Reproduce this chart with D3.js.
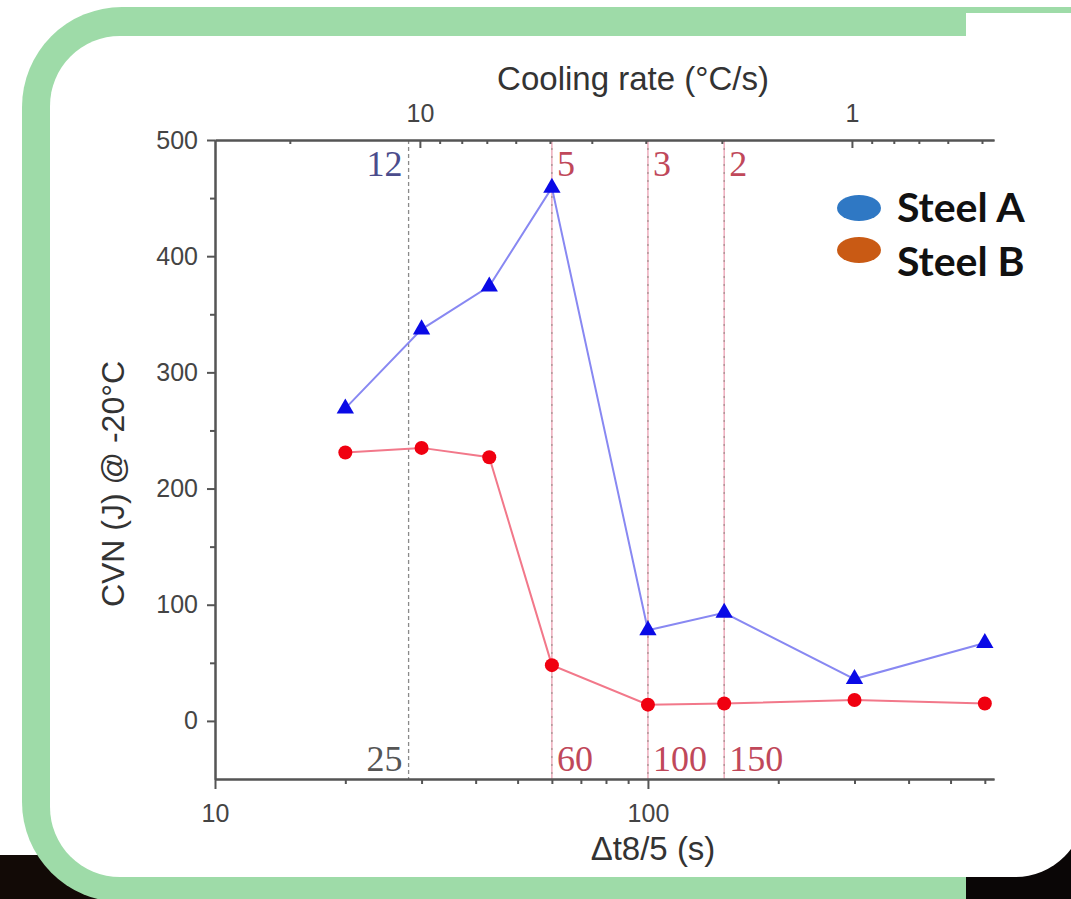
<!DOCTYPE html>
<html>
  <head>
    <meta charset="utf-8" />
    <title>CVN vs t8/5</title>
    <script src="https://d3js.org/d3.v7.min.js"></script>
    <style>
      body {
        margin: 0;
        background: #ffffff;
      }
      svg {
        display: block;
      }
    </style>
  </head>
  <body>

    <svg id="chart"></svg>

    <script>

      // cooling time t8/5 (s) of each weld
      var dtValues = [20, 30, 43, 60, 100, 150, 300, 600];
      // CVN at -20°C (J)
      var steelA = [269, 337, 374, 459, 78, 93, 36, 67];
      var steelB = [231, 235, 227, 48, 14, 15, 18, 15];

      // marked cooling times and matching cooling rates
      var refDt = [28, 60, 100, 150];
      var refDtLabels = ["25", "60", "100", "150"];
      var refRateLabels = ["12", "5", "3", "2"];

      var bottomMajor = [10, 100];
      var bottomMinor = [20, 30, 40, 50, 60, 70, 80, 90, 200, 300, 400, 500, 600];
      var topMajor = [10, 1];
      var topMinor = [20, 9, 8, 7, 6, 5, 4, 3, 2, 0.9, 0.8, 0.7, 0.6, 0.5];
      var yMajor = [0, 100, 200, 300, 400, 500];
      var yMinor = [50, 150, 250, 350, 450];

      var legendNames = ["Steel A", "Steel B"];
      var legendColors = ["#2f78c4", "#c95a14"];

      var width = 1071;
      var height = 899;
      var plot = { left: 215, right: 994, top: 140, bottom: 779 };

      var svg = d3.select("#chart")
        .attr("width", width)
        .attr("height", height);

      // ---- slide frame ----
      var frame = svg.append("g");
      frame.append("rect").attr("x", 0).attr("y", 855).attr("width", 130).attr("height", 44).attr("fill", "#120a06");
      frame.append("rect")
        .attr("x", 22).attr("y", 7)
        .attr("width", 2000).attr("height", 895)
        .attr("rx", 100)
        .attr("fill", "#9edba8");
      frame.append("rect").attr("x", 966).attr("y", 820).attr("width", 105).attr("height", 79).attr("fill", "#0a0606");
      frame.append("rect").attr("x", 966).attr("y", 13).attr("width", 105).attr("height", 80).attr("fill", "#ffffff");
      frame.append("rect")
        .attr("x", 50).attr("y", 36)
        .attr("width", 1035).attr("height", 841)
        .attr("rx", 70)
        .attr("fill", "#ffffff");

      // ---- scales ----
      var x = d3.scaleLog()
        .domain([10, 630])
        .range([plot.left, plot.right]);

      var xTop = d3.scaleLog()
        .domain([29.8, 0.469])
        .range([plot.left, plot.right]);

      var y = d3.scaleLinear()
        .domain([-50, 500])
        .range([plot.bottom, plot.top]);

      var axisColor = "#555";
      var tickFont = "'Liberation Sans', Arial, sans-serif";

      function styleAxis(g) {
        g.attr("font-family", tickFont)
          .attr("font-size", 25);
        g.selectAll("path, line")
          .attr("stroke", axisColor)
          .attr("stroke-width", 2);
        g.selectAll("text").attr("fill", "#444");
      }

      // ---- reference lines ----
      var refs = svg.append("g");
      refDt.forEach(function(d, i) {
        var xp = x(d);
        if (i > 0) {
          refs.append("line")
            .attr("x1", xp).attr("x2", xp)
            .attr("y1", y(500)).attr("y2", y(-50))
            .attr("stroke", "#eaa0b2")
            .attr("stroke-width", 1.3);
        }
        refs.append("line")
          .attr("x1", xp).attr("x2", xp)
          .attr("y1", y(500)).attr("y2", y(-50))
          .attr("stroke", i === 0 ? "#8a8a8a" : "#a89090")
          .attr("stroke-width", 1.3)
          .attr("stroke-dasharray", i === 0 ? "4,3" : "2,6");
      });

      var serif = "'Liberation Serif', 'Times New Roman', serif";
      refDt.forEach(function(d, i) {
        var left = i === 0;
        var xp = x(d) + (left ? -6 : 5);
        refs.append("text")
          .attr("x", xp)
          .attr("y", 176)
          .attr("text-anchor", left ? "end" : "start")
          .attr("font-family", serif)
          .attr("font-size", 36)
          .attr("fill", left ? "#4b4c8c" : "#c0485a")
          .text(refRateLabels[i]);
        refs.append("text")
          .attr("x", xp)
          .attr("y", 771)
          .attr("text-anchor", left ? "end" : "start")
          .attr("font-family", serif)
          .attr("font-size", 36)
          .attr("fill", left ? "#555" : "#c0485a")
          .text(refDtLabels[i]);
      });

      // ---- axes ----
      svg.append("g")
        .attr("transform", "translate(0," + plot.bottom + ")")
        .call(d3.axisBottom(x).tickValues(bottomMinor).tickFormat("").tickSize(5).tickSizeOuter(0))
        .call(styleAxis);
      svg.append("g")
        .attr("transform", "translate(0," + plot.bottom + ")")
        .call(d3.axisBottom(x).tickValues(bottomMajor).tickFormat(d3.format("d")).tickSize(10).tickPadding(15).tickSizeOuter(0))
        .call(styleAxis);

      svg.append("g")
        .attr("transform", "translate(0," + plot.top + ")")
        .call(d3.axisTop(xTop).tickValues(topMinor).tickFormat("").tickSizeInner(-4).tickSizeOuter(0))
        .call(styleAxis);
      svg.append("g")
        .attr("transform", "translate(0," + plot.top + ")")
        .call(d3.axisTop(xTop).tickValues(topMajor).tickFormat(d3.format("d")).tickSizeInner(-8).tickPadding(18).tickSizeOuter(0))
        .call(styleAxis);

      svg.append("g")
        .attr("transform", "translate(" + plot.left + ",0)")
        .call(d3.axisLeft(y).tickValues(yMinor).tickFormat("").tickSize(5).tickSizeOuter(0))
        .call(styleAxis);
      svg.append("g")
        .attr("transform", "translate(" + plot.left + ",0)")
        .call(d3.axisLeft(y).tickValues(yMajor).tickSize(8).tickPadding(9).tickSizeOuter(0))
        .call(styleAxis);

      // ---- axis titles ----
      svg.append("text")
        .attr("x", 633).attr("y", 90)
        .attr("text-anchor", "middle")
        .attr("font-family", tickFont)
        .attr("font-size", 33)
        .attr("fill", "#333")
        .text("Cooling rate (°C/s)");

      svg.append("text")
        .attr("x", 653).attr("y", 860)
        .attr("text-anchor", "middle")
        .attr("font-family", tickFont)
        .attr("font-size", 33)
        .attr("fill", "#333")
        .text("Δt8/5 (s)");

      svg.append("text")
        .attr("transform", "translate(124,484) rotate(-90)")
        .attr("text-anchor", "middle")
        .attr("font-family", tickFont)
        .attr("font-size", 32)
        .attr("fill", "#333")
        .text("CVN (J) @ -20°C");

      // ---- series ----
      var line = d3.line()
        .x(function(d) { return x(d[0]); })
        .y(function(d) { return y(d[1]); });

      var dataA = d3.zip(dtValues, steelA);
      var dataB = d3.zip(dtValues, steelB);

      svg.append("path")
        .datum(dataB)
        .attr("fill", "none")
        .attr("stroke", "#f2788a")
        .attr("stroke-width", 2)
        .attr("d", line);

      svg.append("path")
        .datum(dataA)
        .attr("fill", "none")
        .attr("stroke", "#8888f2")
        .attr("stroke-width", 2)
        .attr("d", line);

      svg.append("g").selectAll("circle")
        .data(dataB)
        .join("circle")
        .attr("cx", function(d) { return x(d[0]); })
        .attr("cy", function(d) { return y(d[1]); })
        .attr("r", 7)
        .attr("fill", "#f00010");

      svg.append("g").selectAll("path")
        .data(dataA)
        .join("path")
        .attr("transform", function(d) { return "translate(" + x(d[0]) + "," + y(d[1]) + ")"; })
        .attr("d", d3.symbol(d3.symbolTriangle, 130))
        .attr("fill", "#0a0ae6");

      // ---- legend ----
      var legend = svg.append("g");
      legendNames.forEach(function(name, i) {
        legend.append("ellipse")
          .attr("cx", 859).attr("cy", 208 + i * 42)
          .attr("rx", 22).attr("ry", 13)
          .attr("fill", legendColors[i]);
        legend.append("text")
          .attr("x", 897).attr("y", 222 + i * 54)
          .attr("font-family", "Lato, 'Open Sans', sans-serif")
          .attr("font-weight", "bold")
          .attr("font-size", 41)
          .attr("fill", "#111")
          .text(name);
      });

    </script>
  </body>
</html>
